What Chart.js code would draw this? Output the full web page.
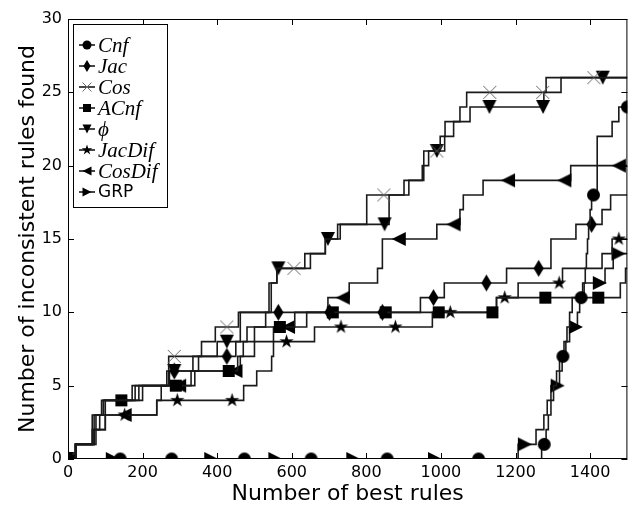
<!DOCTYPE html>
<html>
<head>
<meta charset="utf-8">
<script src="https://cdn.jsdelivr.net/npm/chart.js@4.4.1/dist/chart.umd.min.js"></script>
<style>
  html, body { margin: 0; padding: 0; background: #fff; }
  canvas { display: block; }
</style>
</head>
<body>
<canvas id="chart" width="635" height="505"></canvas>
<script>
// each series is a step function: y[i] holds from x[i] onwards
const cnfX = [0, 1270, 1282, 1288, 1295, 1302, 1310, 1318, 1330, 1338, 1345, 1352, 1384, 1387, 1390, 1393, 1396, 1400, 1404, 1419, 1459, 1477];
const cnfY = [0, 1, 2, 3, 4, 5, 6, 7, 8, 9, 10, 11, 12, 13, 14, 15, 16, 17, 18, 22, 23, 24];
const cnfMarks = [0, 140, 278, 473, 652, 856, 1101, 1277, 1327, 1376, 1409, 1500];

const jacX = [0, 20, 70, 85, 100, 190, 265, 350, 450, 480, 530, 945, 1009, 1176, 1295, 1362, 1432, 1455];
const jacY = [0, 1, 2, 3, 4, 5, 6, 7, 8, 9, 10, 11, 12, 13, 15, 16, 17, 18];
const jacMarks = [0, 285, 426, 564, 701, 843, 980, 1122, 1262, 1404];

const cosX = [0, 20, 65, 90, 172, 270, 358, 395, 457, 539, 560, 635, 690, 723, 801, 901, 954, 998, 1011, 1051, 1069, 1282];
const cosY = [0, 1, 3, 4, 5, 7, 8, 9, 10, 12, 13, 14, 15, 16, 18, 19, 21, 22, 23, 24, 25, 26];
const cosMarks = [0, 285, 426, 606, 847, 989, 1131, 1273, 1410];

const acnfX = [0, 20, 75, 95, 200, 330, 455, 470, 500, 608, 1149, 1481, 1495];
const acnfY = [0, 1, 3, 4, 5, 6, 7, 8, 9, 10, 11, 12, 13];
const acnfMarks = [0, 143, 289, 431, 568, 710, 852, 994, 1138, 1280, 1422];

const phiX = [0, 22, 70, 95, 180, 272, 335, 400, 462, 545, 560, 650, 690, 730, 861, 914, 950, 967, 1010, 1034, 1078, 1276, 1322];
const phiY = [0, 1, 3, 4, 5, 6, 7, 8, 10, 12, 13, 14, 15, 16, 18, 19, 20, 21, 22, 23, 24, 25, 26];
const phiMarks = [0, 285, 426, 564, 697, 849, 989, 1130, 1274, 1434];

const jacDifX = [0, 20, 65, 100, 238, 471, 506, 546, 551, 661, 977, 1149, 1207, 1326, 1432, 1459];
const jacDifY = [0, 1, 2, 3, 4, 5, 6, 7, 8, 9, 10, 11, 12, 13, 14, 15];
const jacDifMarks = [0, 152, 293, 440, 586, 732, 878, 1025, 1171, 1317, 1477];

const cosDifX = [0, 20, 70, 100, 238, 250, 340, 462, 500, 551, 640, 697, 754, 830, 843, 989, 1051, 1060, 1113, 1348];
const cosDifY = [0, 1, 2, 3, 4, 5, 6, 7, 8, 9, 10, 11, 12, 13, 15, 16, 17, 18, 19, 20];
const cosDifMarks = [0, 152, 298, 449, 590, 737, 887, 1034, 1180, 1331, 1477];

const grpX = [0, 1207, 1255, 1276, 1285, 1295, 1318, 1325, 1335, 1345, 1366, 1372, 1380, 1440, 1462];
const grpY = [0, 1, 2, 3, 4, 5, 6, 7, 8, 9, 10, 11, 12, 13, 14];
const grpMarks = [0, 120, 384, 556, 765, 984, 1225, 1313, 1362, 1426, 1476];

const xTicks = [0, 200, 400, 600, 800, 1000, 1200, 1400];
const yTicks = [0, 5, 10, 15, 20, 25, 30];
const X_MAX = 1500;

const series = [
  { label: "Cnf", xs: cnfX, ys: cnfY, marks: cnfMarks, shape: "circle", math: true },
  { label: "Jac", xs: jacX, ys: jacY, marks: jacMarks, shape: "thinDiamond", math: true },
  { label: "Cos", xs: cosX, ys: cosY, marks: cosMarks, shape: "x", math: true },
  { label: "ACnf", xs: acnfX, ys: acnfY, marks: acnfMarks, shape: "square", math: true },
  { label: "\u03d5", xs: phiX, ys: phiY, marks: phiMarks, shape: "triDown", math: true },
  { label: "JacDif", xs: jacDifX, ys: jacDifY, marks: jacDifMarks, shape: "star", math: true },
  { label: "CosDif", xs: cosDifX, ys: cosDifY, marks: cosDifMarks, shape: "triLeft", math: true },
  { label: "GRP", xs: grpX, ys: grpY, marks: grpMarks, shape: "triRight", math: false }
];

const plotSize = { circle: 13, thinDiamond: 17, x: 13, square: 12, triDown: 14, star: 15, triLeft: 14, triRight: 14 };
const legendSize = { circle: 9, thinDiamond: 12, x: 9, square: 8, triDown: 9, star: 11, triLeft: 9, triRight: 9 };

function drawShape(g, shape, cx, cy, s) {
  const h = s / 2;
  g.beginPath();
  if (shape === "circle") {
    g.arc(cx, cy, h, 0, Math.PI * 2);
  } else if (shape === "square") {
    g.rect(cx - h, cy - h, s, s);
  } else if (shape === "thinDiamond") {
    g.moveTo(cx, cy - h); g.lineTo(cx + h * 0.6, cy); g.lineTo(cx, cy + h); g.lineTo(cx - h * 0.6, cy);
    g.closePath();
  } else if (shape === "triDown") {
    g.moveTo(cx - h, cy - h); g.lineTo(cx + h, cy - h); g.lineTo(cx, cy + h); g.closePath();
  } else if (shape === "triLeft") {
    g.moveTo(cx - h, cy); g.lineTo(cx + h, cy - h); g.lineTo(cx + h, cy + h); g.closePath();
  } else if (shape === "triRight") {
    g.moveTo(cx + h, cy); g.lineTo(cx - h, cy - h); g.lineTo(cx - h, cy + h); g.closePath();
  } else if (shape === "star") {
    for (let k = 0; k < 10; k++) {
      const r = k % 2 === 0 ? h : h * 0.382;
      const a = -Math.PI / 2 + k * Math.PI / 5;
      const px = cx + r * Math.cos(a), py = cy + r * Math.sin(a);
      if (k === 0) g.moveTo(px, py); else g.lineTo(px, py);
    }
    g.closePath();
  } else if (shape === "x") {
    g.moveTo(cx - h, cy - h); g.lineTo(cx + h, cy + h);
    g.moveTo(cx + h, cy - h); g.lineTo(cx - h, cy + h);
    g.strokeStyle = "#666";
    g.lineWidth = 1;
    g.stroke();
    return;
  }
  g.fillStyle = "#000";
  g.fill();
}

function markerCanvas(shape, s) {
  const c = document.createElement("canvas");
  c.width = c.height = s + 4;
  drawShape(c.getContext("2d"), shape, (s + 4) / 2, (s + 4) / 2, s);
  return c;
}

function buildPoints(xs, ys, marks) {
  const pts = xs.map((x, i) => ({ x, y: ys[i], m: false }));
  pts.push({ x: X_MAX, y: ys[ys.length - 1], m: false });
  marks.forEach(mx => {
    let y = ys[0];
    xs.forEach((x, i) => { if (x <= mx) y = ys[i]; });
    pts.push({ x: mx, y, m: true });
  });
  pts.sort((a, b) => a.x - b.x);
  return pts;
}

const datasets = series.map(s => ({
  label: s.label,
  data: buildPoints(s.xs, s.ys, s.marks),
  stepped: "before",
  borderColor: "#1a1a1a",
  borderWidth: 1.6,
  fill: false,
  tension: 0,
  pointStyle: markerCanvas(s.shape, plotSize[s.shape]),
  pointRadius: ctx => (ctx.raw && ctx.raw.m ? 6 : 0),
  pointHoverRadius: 0
}));

const frame = {
  id: "frame",
  afterDatasetsDraw(chart) {
    const { ctx, chartArea: a, scales } = chart;
    ctx.save();
    ctx.strokeStyle = "#000";
    ctx.lineWidth = 1;
    ctx.strokeRect(a.left + 0.5, a.top + 0.5, a.right - a.left - 1, a.bottom - a.top - 1);
    ctx.beginPath();
    xTicks.forEach(v => {
      const px = Math.round(scales.x.getPixelForValue(v)) + 0.5;
      ctx.moveTo(px, a.bottom); ctx.lineTo(px, a.bottom - 6);
      ctx.moveTo(px, a.top); ctx.lineTo(px, a.top + 6);
    });
    yTicks.forEach(v => {
      const py = Math.round(scales.y.getPixelForValue(v)) + 0.5;
      ctx.moveTo(a.left, py); ctx.lineTo(a.left + 6, py);
      ctx.moveTo(a.right, py); ctx.lineTo(a.right - 6, py);
    });
    ctx.stroke();
    ctx.restore();
  }
};

const legendBox = {
  id: "legendBox",
  afterDraw(chart) {
    const ctx = chart.ctx;
    ctx.save();
    ctx.fillStyle = "#fff";
    ctx.fillRect(73, 24, 95, 184);
    ctx.strokeStyle = "#000";
    ctx.lineWidth = 1;
    ctx.strokeRect(73.5, 24.5, 94, 183);
    series.forEach((s, i) => {
      const y = 45 + i * 21;
      ctx.beginPath();
      ctx.moveTo(79, y); ctx.lineTo(95, y);
      ctx.strokeStyle = "#1a1a1a";
      ctx.lineWidth = 1.6;
      ctx.stroke();
      drawShape(ctx, s.shape, 87, y, legendSize[s.shape]);
      ctx.fillStyle = "#000";
      ctx.textBaseline = "middle";
      ctx.textAlign = "left";
      ctx.font = s.math ? "italic 21px 'Liberation Serif', 'DejaVu Serif', serif" : "17px 'DejaVu Sans', sans-serif";
      ctx.fillText(s.label, 98, y + 1);
    });
    ctx.restore();
  }
};

const tickFont = { family: "'DejaVu Sans', sans-serif", size: 16 };
const titleFont = { family: "'DejaVu Sans', sans-serif", size: 22, lineHeight: 1 };

new Chart(document.getElementById("chart"), {
  type: "line",
  data: { datasets },
  options: {
    responsive: false,
    animation: false,
    events: [],
    layout: { padding: { top: 19, right: 3, left: 0, bottom: 0 } },
    scales: {
      x: {
        type: "linear",
        min: 0,
        max: X_MAX,
        grid: { display: false, drawTicks: false },
        border: { display: false },
        ticks: { stepSize: 200, includeBounds: false, color: "#000", font: tickFont, padding: 4, maxRotation: 0, callback: v => String(v) },
        title: { display: true, text: "Number of best rules", color: "#000", font: titleFont, padding: { top: 0, bottom: 0 } },
        afterFit(scale) { scale.height = 46; }
      },
      y: {
        type: "linear",
        min: 0,
        max: 30,
        grid: { display: false, drawTicks: false },
        border: { display: false },
        ticks: { stepSize: 5, color: "#000", font: tickFont, padding: 6, callback: v => String(v) },
        title: { display: true, text: "Number of inconsistent rules found", color: "#000", font: titleFont, padding: { top: 17, bottom: 0 } },
        afterFit(scale) { scale.width = 68; }
      }
    },
    plugins: {
      legend: { display: false },
      tooltip: { enabled: false }
    }
  },
  plugins: [frame, legendBox]
});
</script>
</body>
</html>
